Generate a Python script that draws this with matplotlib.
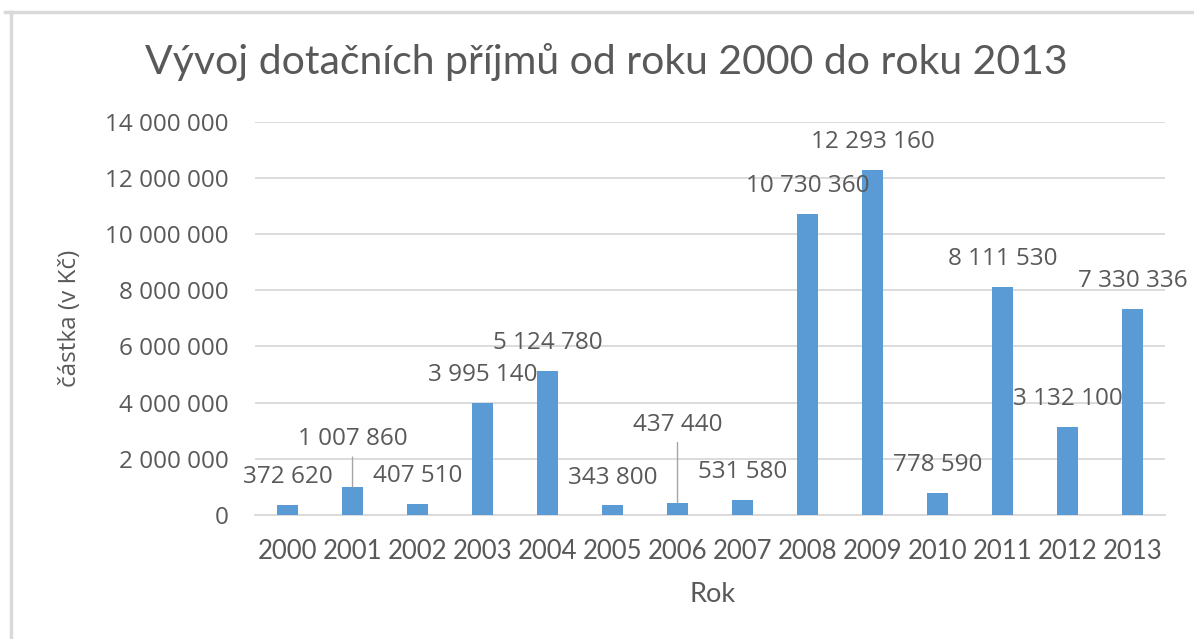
import numpy as np
import matplotlib
matplotlib.use("Agg")
import matplotlib.pyplot as plt
from matplotlib.lines import Line2D
from matplotlib.ticker import FuncFormatter

# data
years = ["2000", "2001", "2002", "2003", "2004", "2005", "2006",
         "2007", "2008", "2009", "2010", "2011", "2012", "2013"]
values = [372620, 1007860, 407510, 3995140, 5124780, 343800, 437440,
          531580, 10730360, 12293160, 778590, 8111530, 3132100, 7330336]
yticks = [0, 2000000, 4000000, 6000000, 8000000, 10000000, 12000000, 14000000]

title = "Vývoj dotačních příjmů od roku 2000 do roku 2013"
xlabel = "Rok"
ylabel = "částka (v Kč)"

BAR = "#5B9BD5"
TXT = "#595959"
GRID = "#D9D9D9"
NUMFONT = ["Open Sans", "DejaVu Sans"]
TXTFONT = ["Lato", "DejaVu Sans"]


def space_fmt(v, pos=None):
    return f"{v:,.0f}".replace(",", " ")


fig = plt.figure(figsize=(11.94, 6.39), dpi=100)
ax = fig.add_axes([0.2136, 0.194, 0.7621, 0.6156])

x = np.arange(len(years))
ax.bar(x, values, width=0.32, color=BAR, zorder=3)

ax.set_xlim(-0.5, len(years) - 0.5)
ax.set_ylim(0, 14000000)
ax.set_yticks(yticks)
ax.yaxis.set_major_formatter(FuncFormatter(space_fmt))
ax.set_xticks(x)
ax.set_xticklabels(years)
ax.grid(axis="y", color=GRID, linewidth=1.3, zorder=0)
ax.set_axisbelow(True)
for s in ["top", "right", "left"]:
    ax.spines[s].set_visible(False)
ax.spines["bottom"].set_color(GRID)
ax.spines["bottom"].set_linewidth(1.3)
ax.tick_params(axis="both", length=0)
ax.tick_params(axis="y", pad=19, labelsize=17.5, labelcolor=TXT)
ax.tick_params(axis="x", pad=17, labelsize=18.5, labelcolor=TXT)
for lab in ax.get_yticklabels():
    lab.set_family(NUMFONT)
for lab in ax.get_xticklabels():
    lab.set_family(TXTFONT)

# data labels; a few are moved up with a leader line
moved = {1: 34, 6: 56}
for i, v in enumerate(values):
    dy = moved.get(i, 20)
    arrow = dict(arrowstyle="-", color="#A6A6A6", lw=1, shrinkB=0) if i in moved else None
    ax.annotate(space_fmt(v), xy=(i, v), xytext=(0, dy), textcoords="offset points",
                ha="center", va="center", fontsize=17.5, color=TXT,
                family=NUMFONT, arrowprops=arrow, zorder=4)

fig.text(0.508, 0.903, title, ha="center", va="center", fontsize=29.5,
         color=TXT, family=TXTFONT)
fig.text(0.597, 0.069, xlabel, ha="center", va="center", fontsize=19.5,
         color=TXT, family=TXTFONT)
fig.text(0.059, 0.502, ylabel, ha="center", va="center", rotation=90,
         fontsize=17.5, color=TXT, family=NUMFONT)

# chart frame (top and left edges visible)
fig.add_artist(Line2D([5 / 1194, 1.0], [1 - 12 / 639] * 2, color=GRID, lw=2.5))
fig.add_artist(Line2D([11 / 1194] * 2, [0.0, 1 - 12 / 639], color=GRID, lw=2.5))

fig.savefig("out.png", dpi=100)
